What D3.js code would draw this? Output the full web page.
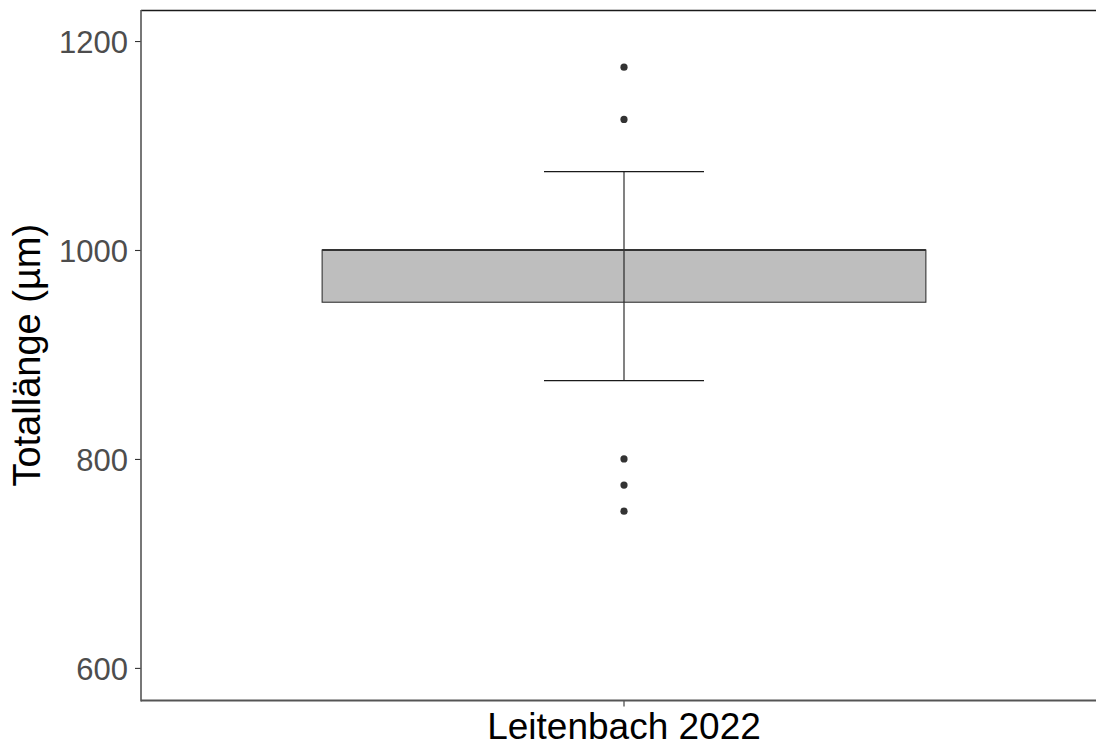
<!DOCTYPE html>
<html>
<head>
<meta charset="utf-8">
<script src="https://cdn.jsdelivr.net/npm/d3@7"></script>
<style>
  html, body { margin: 0; padding: 0; background: #fff; }
  svg { display: block; }
</style>
</head>
<body>
<svg id="chart" width="1096" height="747"></svg>
<script>
// ---- data ----
const categories = ["Leitenbach 2022"];
const lowerWhisker = [875];
const q1Values = [950];
const medianValues = [1000];
const q3Values = [1000];
const upperWhisker = [1075];
const outliers = [[1175, 1125, 800, 775, 750]];
const yTicks = [600, 800, 1000, 1200];
const yLabel = "Totallänge (µm)";

// ---- layout ----
const W = 1096, H = 747;
const panel = { left: 141, right: 1107, top: 10, bottom: 700.5 };
const svg = d3.select("#chart");

const x = d3.scaleBand().domain(categories)
  .range([panel.left, panel.right]).paddingInner(0).paddingOuter(0.3);
const y = d3.scaleLinear().domain([568.8, 1229.7]).range([panel.bottom, panel.top]);

const boxes = categories.map((c, i) => ({
  cat: c, lo: lowerWhisker[i], q1: q1Values[i], med: medianValues[i],
  q3: q3Values[i], hi: upperWhisker[i], out: outliers[i]
}));

// panel top border
svg.append("line")
  .attr("x1", panel.left).attr("x2", panel.right)
  .attr("y1", panel.top + 0.5).attr("y2", panel.top + 0.5)
  .attr("stroke", "#1a1a1a").attr("stroke-width", 1.4);

const g = svg.append("g");
boxes.forEach(b => {
  const cx = x(b.cat) + x.bandwidth() / 2;
  const bw = x.bandwidth();
  const capW = bw * 0.265;
  // whisker
  g.append("line").attr("x1", cx).attr("x2", cx)
    .attr("y1", y(b.lo)).attr("y2", y(b.hi))
    .attr("stroke", "#1a1a1a").attr("stroke-width", 1.1);
  // caps
  [b.lo, b.hi].forEach(v => {
    g.append("line").attr("x1", cx - capW / 2).attr("x2", cx + capW / 2)
      .attr("y1", y(v)).attr("y2", y(v))
      .attr("stroke", "#1a1a1a").attr("stroke-width", 1.1);
  });
  // box
  g.append("rect")
    .attr("x", x(b.cat)).attr("width", bw)
    .attr("y", y(b.q3)).attr("height", y(b.q1) - y(b.q3))
    .attr("fill", "#bebebe").attr("stroke", "#333333").attr("stroke-width", 1.1);
  // whisker drawn through the box (as in reference)
  g.append("line").attr("x1", cx).attr("x2", cx)
    .attr("y1", y(b.q3)).attr("y2", y(b.q1))
    .attr("stroke", "#1a1a1a").attr("stroke-width", 1.1);
  // median
  g.append("line").attr("x1", x(b.cat)).attr("x2", x(b.cat) + bw)
    .attr("y1", y(b.med)).attr("y2", y(b.med))
    .attr("stroke", "#333333").attr("stroke-width", 2.2);
  // outliers
  g.selectAll(null).data(b.out).enter().append("circle")
    .attr("cx", cx).attr("cy", d => y(d)).attr("r", 3.6)
    .attr("fill", "#333333");
});

// y axis
const yAxis = svg.append("g")
  .attr("transform", `translate(${panel.left},0)`)
  .call(d3.axisLeft(y).tickValues(yTicks).tickSize(6).tickPadding(7).tickFormat(d3.format("d")));
yAxis.select(".domain").remove();
yAxis.selectAll(".tick line").attr("stroke", "#333333").attr("stroke-width", 1.1);
yAxis.selectAll(".tick text")
  .attr("fill", "#4d4d4d")
  .style("font-family", "Liberation Sans, Arial, sans-serif")
  .style("font-size", "31px")
  .attr("dy", "0.36em");
svg.append("line")
  .attr("x1", panel.left).attr("x2", panel.left)
  .attr("y1", panel.top).attr("y2", panel.bottom + 1)
  .attr("stroke", "#555555").attr("stroke-width", 1.6);

// x axis
const xAxis = svg.append("g")
  .attr("transform", `translate(0,${panel.bottom})`)
  .call(d3.axisBottom(x).tickSize(6).tickPadding(8));
xAxis.select(".domain").remove();
xAxis.selectAll(".tick line").attr("stroke", "#333333").attr("stroke-width", 1.1);
xAxis.selectAll(".tick text")
  .attr("fill", "#000")
  .style("font-family", "Liberation Sans, Arial, sans-serif")
  .style("font-size", "37px")
  .attr("y", 0).attr("dy", "1.05em");
svg.append("line")
  .attr("x1", panel.left).attr("x2", panel.right)
  .attr("y1", panel.bottom).attr("y2", panel.bottom)
  .attr("stroke", "#555555").attr("stroke-width", 2);

// y title
svg.append("text")
  .attr("transform", `translate(40,${(panel.top + panel.bottom) / 2}) rotate(-90)`)
  .attr("text-anchor", "middle")
  .style("font-family", "Liberation Sans, Arial, sans-serif")
  .style("font-size", "38px")
  .attr("fill", "#000")
  .text(yLabel);
</script>
</body>
</html>
